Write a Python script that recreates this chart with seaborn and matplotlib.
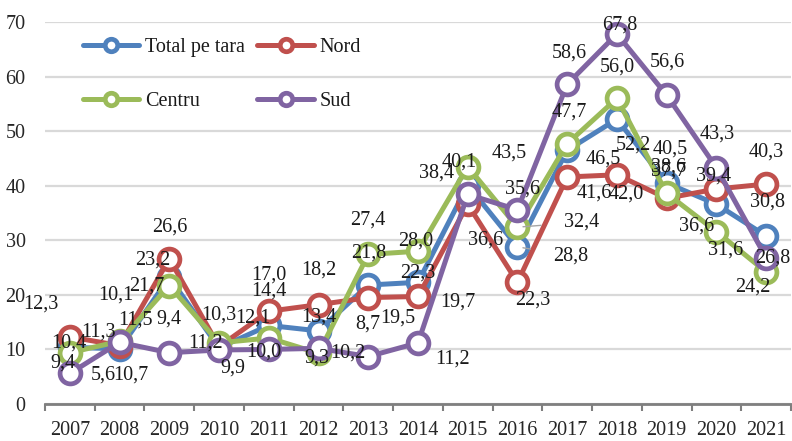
import matplotlib
matplotlib.use("Agg")
import matplotlib.pyplot as plt
import seaborn as sns
import pandas as pd

years = [2007, 2008, 2009, 2010, 2011, 2012, 2013, 2014, 2015, 2016, 2017, 2018, 2019, 2020, 2021]
total = [10.4, 10.1, 23.2, 10.3, 14.4, 13.4, 21.8, 22.3, 40.1, 28.8, 46.5, 52.2, 40.5, 36.6, 30.8]
nord = [12.3, 10.7, 26.6, 10.5, 17.0, 18.2, 19.5, 19.7, 36.6, 22.3, 41.6, 42.0, 37.7, 39.4, 40.3]
centru = [9.4, 11.5, 21.7, 11.2, 12.1, 9.3, 27.4, 28.0, 43.5, 32.4, 47.7, 56.0, 38.6, 31.6, 24.2]
sud = [5.6, 11.3, 9.4, 9.9, 10.0, 10.2, 8.7, 11.2, 38.4, 35.6, 58.6, 67.8, 56.6, 43.3, 26.8]
series_names = ["Total pe tara", "Nord", "Centru", "Sud"]
y_ticks = [0, 10, 20, 30, 40, 50, 60, 70]

series_values = [total, nord, centru, sud]
colors = ["#4F81BD", "#C0504D", "#9BBB59", "#8064A2"]

# label offsets in pixels (dx right, dy down); None = label hidden
offsets = {
    "Total pe tara": [(-1, -4), (-4, -54), (-17, -17), (0, -33), (0, -34), (0, -14), (0, -32), (0, -9),
                      (-8, -23), (53, 9), (36, 9), (16, 26), (4, -34), (-20, 22), (1, -34)],
    "Nord": [(-29, -33), (11, 29), (0, -32), None, (0, -36), (0, -35), (30, 20), (40, 6),
             (18, 36), (15, 18), (27, 16), (9, 19), (2, -27), (-3, -13), (0, -32)],
    "Centru": [(-7, 10), (16, -21), (-23, 0), (-14, 0), (-16, -20), (-2, 5), (0, -34), (-2, -10),
               (41, -14), (64, -5), (2, -32), (0, -31), (2, -26), (9, 18), (-13, 15)],
    "Sud": [(33, 2), (-21, -10), (0, -34), (14, 18), (-5, 3), (29, 5), (0, -32), (35, 16),
            (-31, -21), (5, -21), (2, -31), (3, -9), (1, -33), (1, -34), (7, 0)],
}
leaders = {("Centru", 8), ("Centru", 9), ("Total pe tara", 9)}

sns.set_theme(style="white")
plt.rcParams["font.family"] = ["Liberation Serif", "DejaVu Serif"]
plt.rcParams["text.color"] = "#1a1a1a"

fig = plt.figure(figsize=(7.92, 4.41), dpi=100)
ax = fig.add_axes([45 / 792, 1 - 404 / 441, 746 / 792, 382 / 441])

df = pd.DataFrame({"year": years * 4,
                   "value": total + nord + centru + sud,
                   "series": [n for n in series_names for _ in years]})

for name, col in zip(series_names, colors):
    sub = df[df["series"] == name]
    sns.lineplot(data=sub, x="year", y="value", ax=ax, color=col, linewidth=3.6,
                 marker="o", markersize=15, markerfacecolor="white", markeredgecolor=col,
                 markeredgewidth=3.4, label=name, zorder=3)

FS = 14.5
for name, vals in zip(series_names, series_values):
    for i, (yr, v) in enumerate(zip(years, vals)):
        off = offsets[name][i]
        if off is None:
            continue
        txt = f"{v:.1f}".replace(".", ",")
        kw = {}
        if (name, i) in leaders:
            kw["arrowprops"] = dict(arrowstyle="-", color="#a6a6a6", lw=1.0, shrinkA=14, shrinkB=4)
        ax.annotate(txt, (yr, v), xytext=(off[0], -off[1]), textcoords="offset pixels",
                    ha="center", va="center", fontsize=FS, color="#1a1a1a", zorder=5, **kw)

ax.set_xlim(2006.5, 2021.5)
ax.set_ylim(0, 70)
ax.set_yticks(y_ticks)
ax.set_xticks(years)
ax.set_xticklabels([str(y) for y in years])
ax.set_xticks([y + 0.5 for y in [2006] + years], minor=True)
ax.tick_params(axis="x", which="major", length=0, pad=12, labelsize=FS)
ax.tick_params(axis="x", which="minor", length=5, width=1.5, color="#7f7f7f", direction="out", bottom=True)
ax.tick_params(axis="y", length=0, pad=14, labelsize=FS)
ax.grid(axis="y", color="#d9d9d9", linewidth=1.6)
ax.set_axisbelow(True)
for s in ["top", "right", "left"]:
    ax.spines[s].set_visible(False)
ax.spines["bottom"].set_color("#7f7f7f")
ax.spines["bottom"].set_linewidth(2.0)
ax.set_xlabel("")
ax.set_ylabel("")

h, l = ax.get_legend_handles_labels()
order = [0, 2, 1, 3]  # column-wise fill -> rows: Total, Nord / Centru, Sud
ax.legend([h[k] for k in order], [l[k] for k in order], ncol=2, loc="upper left",
          bbox_to_anchor=(83 / 792, 1 - 38 / 441),
          bbox_transform=fig.transFigure, frameon=False, fontsize=FS, handlelength=2.8,
          handletextpad=0.3, columnspacing=0.6, labelspacing=1.75, borderpad=0,
          borderaxespad=0, markerscale=0.6)

fig.savefig("out.png", dpi=100)
